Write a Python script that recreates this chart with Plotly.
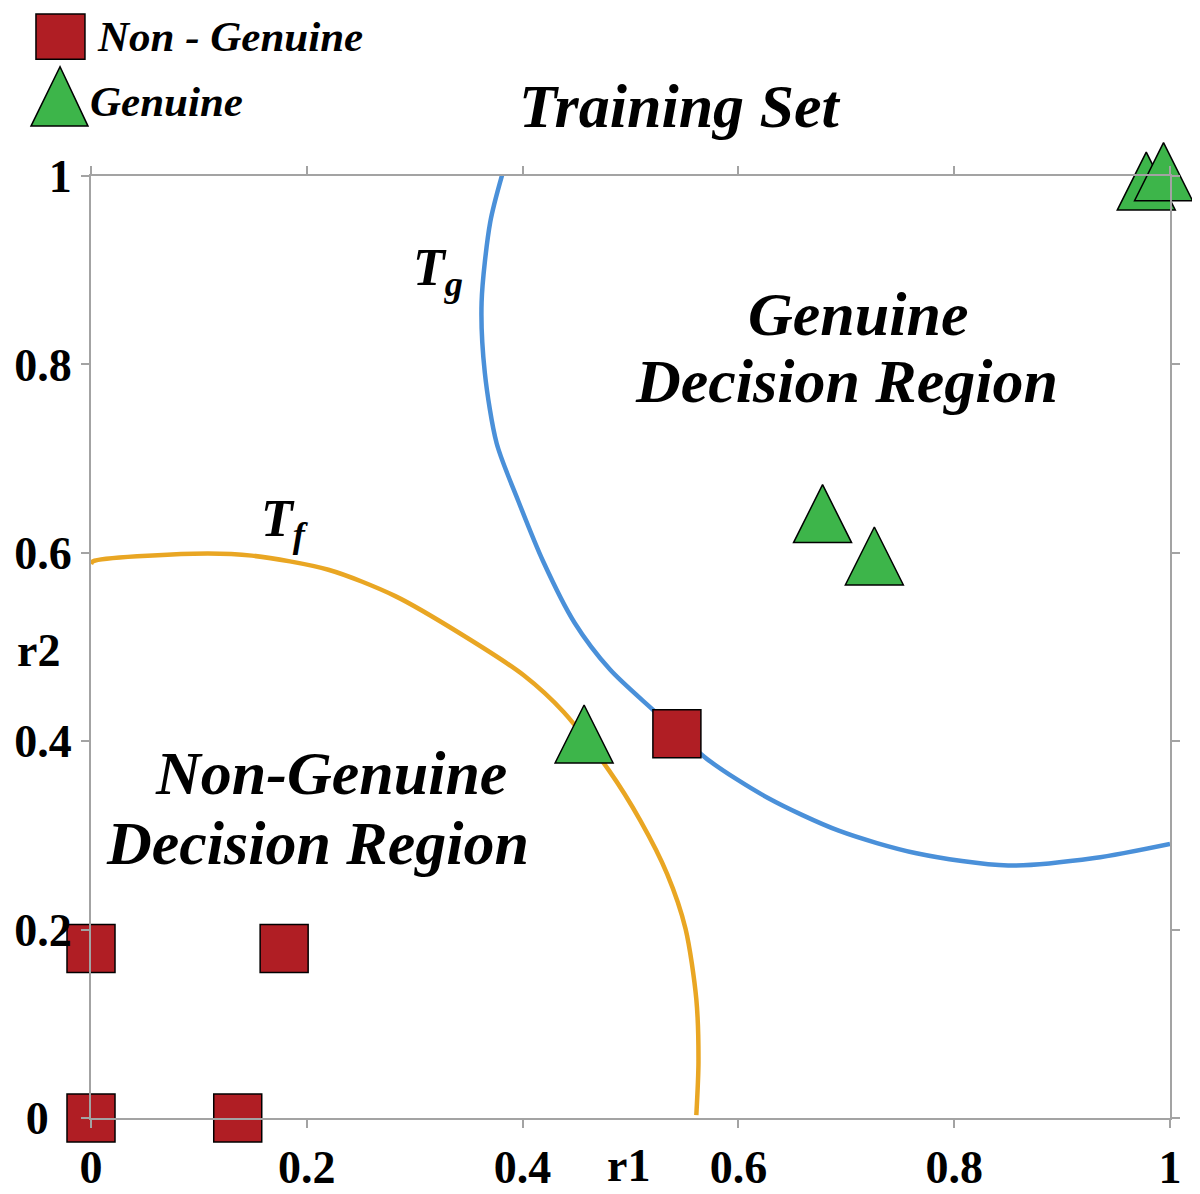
import plotly.graph_objects as go

# === data ===
tf_r1 = [0.0, 0.002, 0.095, 0.149, 0.220, 0.282, 0.344, 0.401, 0.438, 0.480,
         0.509, 0.534, 0.551, 0.561, 0.563, 0.561]
tf_r2 = [0.588, 0.591, 0.599, 0.597, 0.582, 0.554, 0.513, 0.470, 0.431, 0.369,
         0.316, 0.259, 0.201, 0.126, 0.060, 0.003]

tg_r1 = [0.381, 0.370, 0.362, 0.365, 0.376, 0.396, 0.419, 0.448, 0.481, 0.523,
         0.571, 0.627, 0.693, 0.765, 0.850, 0.930, 1.000]
tg_r2 = [1.001, 0.951, 0.866, 0.791, 0.716, 0.655, 0.591, 0.526, 0.476, 0.431,
         0.381, 0.340, 0.305, 0.281, 0.268, 0.276, 0.291]

non_genuine_r1 = [0.0, 0.136, 0.0, 0.179, 0.543]
non_genuine_r2 = [0.0, 0.0, 0.18, 0.18, 0.408]

genuine_r1 = [0.978, 0.994, 0.678, 0.726, 0.457]
genuine_r2 = [0.984, 0.994, 0.631, 0.586, 0.397]

tick_vals = [0, 0.2, 0.4, 0.6, 0.8, 1]
x_tick_text = ["0", "0.2", "0.4", "0.6", "0.8", "1"]
y_tick_text = ["0\u00a0\u00a0", "0.2", "0.4", "0.6", "0.8", "1"]

# === colours / fonts ===
RED = "#B01E24"
GREEN = "#3DB54A"
ORANGE = "#E9A623"
BLUE = "#4A90D9"
AXIS = "#A3A3A3"
SERIF = "Liberation Serif, Times New Roman, serif"

fig = go.Figure()

fig.add_trace(go.Scatter(
    x=tf_r1, y=tf_r2, mode="lines", name="Tf",
    line=dict(color=ORANGE, width=4.5, shape="spline", smoothing=0.8),
    cliponaxis=False
))
fig.add_trace(go.Scatter(
    x=tg_r1, y=tg_r2, mode="lines", name="Tg",
    line=dict(color=BLUE, width=4.5, shape="spline", smoothing=0.8),
    cliponaxis=False
))
fig.add_trace(go.Scatter(
    x=non_genuine_r1, y=non_genuine_r2, mode="markers", name="Non - Genuine",
    marker=dict(symbol="square", size=48, color=RED,
                line=dict(color="black", width=1.5)),
    cliponaxis=False
))
# arrow-down turned 180 deg, pushed back so the centroid sits on the point
fig.add_trace(go.Scatter(
    x=genuine_r1, y=genuine_r2, mode="markers", name="Genuine",
    marker=dict(symbol="arrow-down", size=58, angle=180, standoff=39,
                color=GREEN, line=dict(color="black", width=1.5)),
    cliponaxis=False
))

axis_common = dict(
    range=[0, 1], showgrid=False, zeroline=False, automargin=False,
    showline=True, linecolor=AXIS, linewidth=2, mirror="ticks",
    ticks="outside", ticklen=8, tickcolor=AXIS, tickwidth=1.5,
    tickvals=tick_vals,
    tickfont=dict(family=SERIF, size=46, color="black", weight="bold"),
)

# page body has an 8px margin, so the figure is 8px smaller each way
fig.update_layout(
    width=1192, height=1186,
    margin=dict(l=83, r=30, t=168, b=76),
    plot_bgcolor="white", paper_bgcolor="white",
    showlegend=False,
    xaxis=dict(**axis_common, ticktext=x_tick_text, ticklabelstandoff=0),
    yaxis=dict(**axis_common, ticktext=y_tick_text),
)

bi = dict(family=SERIF, color="black")


def label(text, x, y, size, **kw):
    d = dict(text=text, x=x, y=y, xref="paper", yref="paper",
             xanchor="center", yanchor="middle", showarrow=False,
             font=dict(**bi, size=size))
    d.update(kw)
    return d


annotations = [
    label("<b><i>Training Set</i></b>", 0.546, 1.074, 62),
    label("<b><i>Genuine</i></b>", 0.711, 0.854, 62),
    label("<b><i>Decision Region</i></b>", 0.700, 0.782, 62),
    label("<b><i>Non-Genuine</i></b>", 0.222, 0.366, 62),
    label("<b><i>Decision Region</i></b>", 0.210, 0.292, 62),
    label("<b><i>T<sub>f</sub></i></b>", 0.180, 0.632, 52),
    label("<b><i>T<sub>g</sub></i></b>", 0.322, 0.899, 52),
    label("<b>r1</b>", 0.498, 0, 46, yshift=-47),
    label("<b>r2</b>", 0, 0.496, 46, xshift=-53),
    label("<b><i>Non - Genuine</i></b>", 0.004, 1.148, 43, xanchor="left"),
    label("<b><i>Genuine</i></b>", -0.003, 1.0795, 43, xanchor="left"),
]
fig.update_layout(annotations=annotations)

# hand drawn legend keys
fig.add_shape(type="rect", xref="paper", yref="paper",
              x0=-0.051, x1=-0.0056, y0=1.124, y1=1.172,
              fillcolor=RED, line=dict(color="black", width=1.5))
fig.add_shape(type="path", xref="paper", yref="paper",
              path="M -0.0556 1.053 L -0.0028 1.053 L -0.0287 1.116 Z",
              fillcolor=GREEN, line=dict(color="black", width=1.5))

fig.write_html("out.html")
